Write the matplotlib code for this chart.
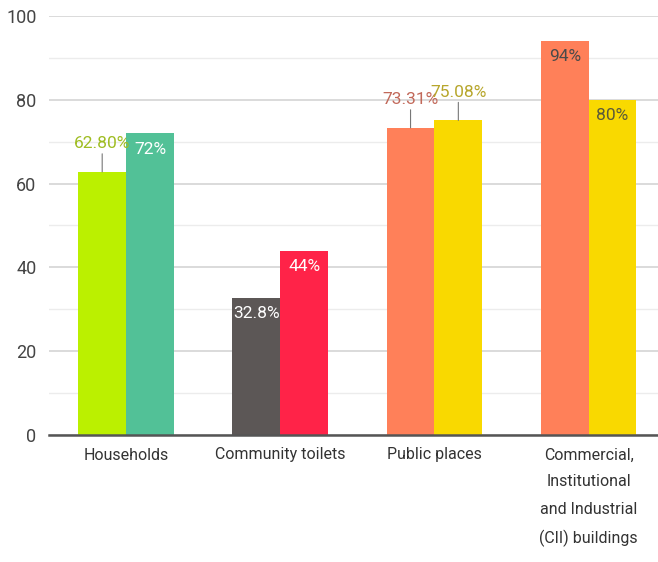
import numpy as np
import matplotlib
matplotlib.use("Agg")
import matplotlib.pyplot as plt
from matplotlib.ticker import MultipleLocator

plt.rcParams['font.family'] = ['Roboto', 'DejaVu Sans']

# data
categories = ["Households", "Community toilets", "Public places",
              "Commercial,\nInstitutional\nand Industrial\n(CII) buildings"]
first_vals = [62.80, 32.8, 73.31, 94]
second_vals = [72, 44, 75.08, 80]
first_labels = ["62.80%", "32.8%", "73.31%", "94%"]
second_labels = ["72%", "44%", "75.08%", "80%"]
first_colors = ["#bbf000", "#5c5756", "#ff8059", "#ff8059"]
second_colors = ["#52c197", "#ff2348", "#f9d900", "#f9d900"]
# label placement: True = above the bar with a leader line
first_above = [True, False, True, False]
second_above = [False, False, True, False]
first_txt_col = ["#9fbd22", "white", "#c2695a", "#4a4a4a"]
second_txt_col = ["white", "white", "#b7a62c", "#5a5a3a"]

fig = plt.figure(figsize=(6.58, 5.62), dpi=100)
ax = fig.add_axes([49 / 658, 127 / 562, 1 - 49 / 658, 419 / 562])

x = np.arange(len(categories))
w = 0.31
b1 = ax.bar(x - w / 2, first_vals, w, color=first_colors, zorder=3)
b2 = ax.bar(x + w / 2, second_vals, w, color=second_colors, zorder=3)

def put_labels(bars, labels, above, cols):
    for bar, lab, ab, c in zip(bars, labels, above, cols):
        cx = bar.get_x() + bar.get_width() / 2
        top = bar.get_height()
        if ab:
            ax.annotate(lab, xy=(cx, top), xytext=(0, 15), textcoords="offset points",
                        ha="center", va="bottom", color=c, fontsize=12.5,
                        arrowprops=dict(arrowstyle="-", color="#777777", lw=0.8,
                                        shrinkA=0, shrinkB=0), zorder=4)
        else:
            ax.annotate(lab, xy=(cx, top), xytext=(0, -6), textcoords="offset points",
                        ha="center", va="top", color=c, fontsize=12.5, zorder=4)

put_labels(b1, first_labels, first_above, first_txt_col)
put_labels(b2, second_labels, second_above, second_txt_col)

ax.set_ylim(0, 100)
ax.set_xlim(-0.5, 3.45)
ax.yaxis.set_major_locator(MultipleLocator(20))
ax.yaxis.set_minor_locator(MultipleLocator(10))
ax.grid(axis="y", which="major", color="#d4d4d4", lw=1.2, zorder=0)
ax.grid(axis="y", which="minor", color="#ececec", lw=1.0, zorder=0)
ax.set_xticks(x)
ax.set_xticklabels(categories, fontsize=11.5, color="#333333", linespacing=2.0, va="top")
ax.tick_params(axis="x", length=0, pad=9)
ax.tick_params(axis="y", which="both", length=0, pad=9, labelsize=13, labelcolor="#444444")
for s in ["top", "right", "left"]:
    ax.spines[s].set_visible(False)
ax.spines["bottom"].set_color("#555555")
ax.spines["bottom"].set_linewidth(1.8)
ax.spines["bottom"].set_zorder(5)

fig.savefig("out.png", dpi=100)
